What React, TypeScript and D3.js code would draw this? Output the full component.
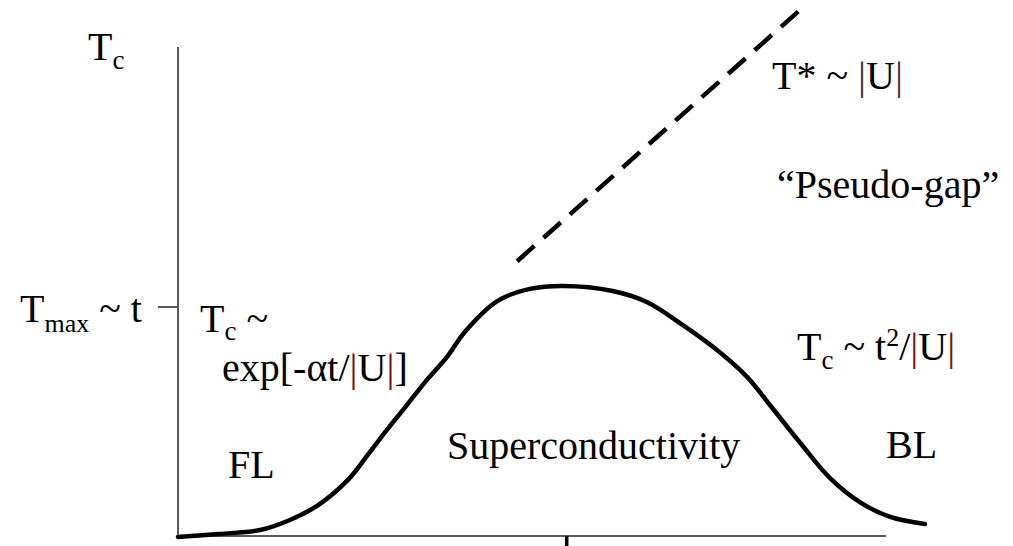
import React from "react";
import * as d3 from "d3";

// Schematic Tc curve (x: |U|/t normalised, y: Tc / Tmax)
const curveX = [0, 0.059, 0.116, 0.158, 0.198, 0.24, 0.268, 0.295, 0.321, 0.349, 0.38, 0.405, 0.451, 0.497, 0.544, 0.614, 0.662, 0.709, 0.756, 0.804, 0.836, 0.879, 0.921, 0.963, 1.006, 1.055];
const curveY = [-0.004, 0.009, 0.026, 0.07, 0.135, 0.245, 0.354, 0.463, 0.563, 0.672, 0.782, 0.891, 1.026, 1.079, 1.092, 1.07, 1.022, 0.93, 0.825, 0.694, 0.572, 0.406, 0.253, 0.148, 0.083, 0.052];

// Pseudo-gap crossover T* ~ |U|
const tStarX = [0.479, 0.876];
const tStarY = [1.2, 2.29];

// Axis extents and ticks
const xAxisMax = 1.0;
const yAxisMax = 2.135;
const yTickValues = [1];
const xTickValues = [0.549];

const W = 1013;
const H = 546;
const FONT = "'Liberation Serif', 'Times New Roman', serif";

export default function App() {
  const x = d3.scaleLinear().domain([0, 1]).range([178, 886]);
  const y = d3.scaleLinear().domain([0, 1]).range([536, 307]);

  const pts: [number, number][] = curveX.map((v, i) => [v, curveY[i]]);
  const line = d3
    .line<[number, number]>()
    .x((d) => x(d[0]))
    .y((d) => y(d[1]))
    .curve(d3.curveCatmullRom.alpha(0.5));

  const dx = x(tStarX[1]) - x(tStarX[0]);
  const dy = y(tStarY[1]) - y(tStarY[0]);
  const len = Math.sqrt(dx * dx + dy * dy);
  const dash = 23;
  const nGaps = Math.round((len - dash) / 35.3);
  const gap = (len - dash) / nGaps - dash;

  const barColor = "#7a1010";

  return (
    <div style={{ position: "absolute", left: 0, top: 0 }}>
      <svg width={W} height={H} style={{ display: "block", background: "#fff" }} fontFamily={FONT} fontSize={40} fill="#000">
        {/* axes */}
        <line x1={x(0)} y1={y(yAxisMax)} x2={x(0)} y2={y(0)} stroke="#5a5a5a" strokeWidth={2} />
        <line x1={x(0)} y1={y(0)} x2={x(xAxisMax)} y2={y(0)} stroke="#5a5a5a" strokeWidth={2} />
        {yTickValues.map((v) => (
          <line key={"yt" + v} x1={x(0) - 20} x2={x(0)} y1={y(v)} y2={y(v)} stroke="#5a5a5a" strokeWidth={2} />
        ))}
        {xTickValues.map((v) => (
          <line key={"xt" + v} x1={x(v)} x2={x(v)} y1={y(0)} y2={y(0) + 12} stroke="#000" strokeWidth={3.5} />
        ))}

        {/* Tc curve */}
        <path d={line(pts) || ""} fill="none" stroke="#000" strokeWidth={4.5} strokeLinecap="round" />

        {/* T* dashed line */}
        <line
          x1={x(tStarX[0])}
          y1={y(tStarY[0])}
          x2={x(tStarX[1])}
          y2={y(tStarY[1])}
          stroke="#000"
          strokeWidth={4.5}
          strokeDasharray={`${dash} ${gap}`}
        />

        {/* axis labels */}
        <text x={88} y={60}>
          T<tspan fontSize={27} dy={9}>c</tspan>
        </text>
        <text x={20} y={322}>
          T<tspan fontSize={26} dy={10}>max</tspan>
          <tspan dy={-10}> ~ t</tspan>
        </text>

        {/* annotations */}
        <text x={200} y={332}>
          T<tspan fontSize={27} dy={8}>c</tspan>
          <tspan dy={-8}> ~</tspan>
        </text>
        <text x={222} y={381}>
          exp[-αt/<tspan fill={barColor}>|</tspan>U<tspan fill={barColor}>|</tspan>]
        </text>
        <text x={228} y={478}>FL</text>
        <text x={447} y={459}>Superconductivity</text>
        <text x={886} y={458}>BL</text>
        <text x={797} y={360}>
          T<tspan fontSize={27} dy={9}>c</tspan>
          <tspan dy={-9}> ~ t</tspan>
          <tspan fontSize={26} dy={-14}>2</tspan>
          <tspan dy={14}>/</tspan>
          <tspan fill={barColor}>|</tspan>U<tspan fill={barColor}>|</tspan>
        </text>
        <text x={772} y={89}>
          T* ~ <tspan fill="#4a3030">|</tspan>U<tspan fill="#4a3030">|</tspan>
        </text>
        <text x={777} y={198}>“Pseudo-gap”</text>
      </svg>
    </div>
  );
}
